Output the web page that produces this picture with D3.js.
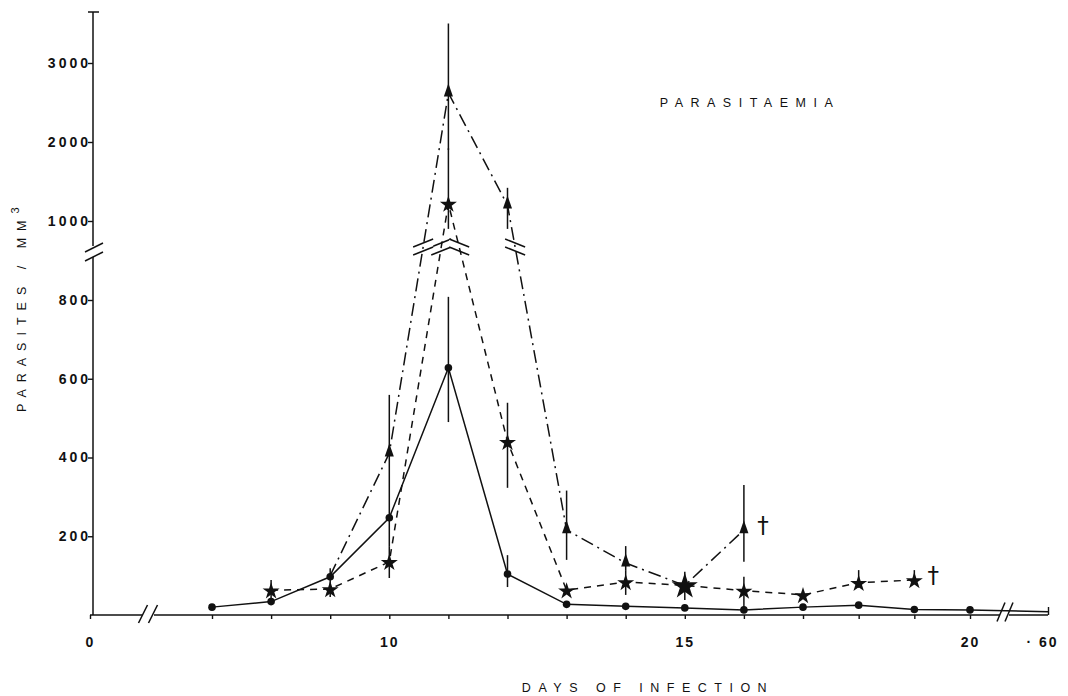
<!DOCTYPE html>
<html>
<head>
<meta charset="utf-8">
<script src="https://cdnjs.cloudflare.com/ajax/libs/d3/7.8.5/d3.min.js"></script>
<style>
  body { margin: 0; background: #fff; }
  svg { display: block; font-family: "Liberation Sans", Arial, sans-serif; }
</style>
</head>
<body>
<svg id="chart" width="1068" height="696"></svg>
<script>
// values (parasites / mm3)
var dotDays   = [7, 8, 9, 10, 11, 12, 13, 14, 15, 16, 17, 18, 19, 20, 60];
var dotValues = [20, 34, 97, 247, 628, 104, 27, 22, 18, 13, 20, 25, 14, 13, 8];
var dotErrors = [null, null, null, null, [490, 808], [71, 152], null, null, null, null, null, null, null, null, null];

var starDays   = [8, 9, 10, 11, 12, 13, 14, 15, 16, 17, 18, 19];
var starValues = [63, 66, 135, 1220, 440, 63, 84, 75, 62, 51, 82, 89];
var starErrors = [[40, 89], [46, 119], [94, 173], [900, 1920], [323, 539], null, [51, 114], [38, 110], [13, 97], null, [69, 114], [78, 114]];

var triDays   = [9, 10, 11, 12, 13, 14, 15, 16];
var triValues = [100, 411, 2620, 1200, 216, 132, 75, 216];
var triErrors = [null, [173, 559], [1900, 3500], [900, 1420], [140, 316], [114, 175], null, [135, 330]];

var yTicksLow  = [200, 400, 600, 800];
var yTicksHigh = [1000, 2000, 3000];
var xTicks     = [0, 7, 8, 9, 10, 11, 12, 13, 14, 15, 16, 17, 18, 19, 20, 60];
var xLabels    = [0, 10, 15, 20, 60];

var bigStarDay = 15;

var svg = d3.select("#chart");

// broken x axis: 0 .. // .. 7-20 .. // .. 60
var x = d3.scaleLinear().domain([0, 7, 17, 20, 60]).range([90, 212, 803, 970, 1048]);
// broken y axis: two linear pieces
var yLow  = d3.scaleLinear().domain([0, 800]).range([615, 300]);
var yHigh = d3.scaleLinear().domain([1000, 3000]).range([221, 63]);
var y = function(v) { return v >= 900 ? yHigh(v) : yLow(v); };

var axisX = 93, baseY = 615, gapY = 247;

function zip(days, vals, errs) {
  return days.map(function(d, i) { return {day: d, v: vals[i], err: errs[i]}; });
}
var dots  = zip(dotDays, dotValues, dotErrors);
var stars = zip(starDays, starValues, starErrors);
var tris  = zip(triDays, triValues, triErrors);

// ---- axes ----
var g = svg.append("g");

var yAxisLow = d3.axisLeft(yLow).tickValues(yTicksLow).tickSize(5).tickPadding(0).tickFormat(d3.format("d"));
var yAxisHigh = d3.axisLeft(yHigh).tickValues(yTicksHigh).tickSize(5).tickPadding(0).tickFormat(d3.format("d"));
[yAxisLow, yAxisHigh].forEach(function(ax) {
  var a = g.append("g").attr("transform", "translate(" + axisX + ",0)").call(ax);
  a.select(".domain").remove();
  a.selectAll("line").attr("stroke", "#111").attr("stroke-width", 1.4);
  a.selectAll("text").attr("x", -2).attr("fill", "#111")
    .style("font-size", "14px").style("font-weight", "bold").style("letter-spacing", "3px");
});

// y axis line in two parts + top cap
g.append("line").attr("x1", axisX).attr("x2", axisX).attr("y1", baseY).attr("y2", gapY + 10)
  .attr("stroke", "#111").attr("stroke-width", 1.5);
g.append("line").attr("x1", axisX).attr("x2", axisX).attr("y1", gapY - 1).attr("y2", 12)
  .attr("stroke", "#111").attr("stroke-width", 1.5);
g.append("line").attr("x1", axisX - 5).attr("x2", axisX + 6).attr("y1", 12).attr("y2", 12)
  .attr("stroke", "#111").attr("stroke-width", 1.5);

var xAxis = d3.axisBottom(x).tickValues(xTicks).tickSize(4).tickPadding(18)
  .tickFormat(function(d) { return xLabels.indexOf(d) < 0 ? "" : (d === 60 ? "\u00b7 60" : d); });
var xa = g.append("g").attr("transform", "translate(0," + baseY + ")").call(xAxis);
xa.select(".domain").remove();
xa.selectAll("line").attr("stroke", "#111").attr("stroke-width", 1.4);
xa.selectAll(".tick").filter(function(d) { return d === 60; }).select("line").attr("y2", -8);
xa.selectAll(".tick").filter(function(d) { return d === 60; }).select("text").attr("dx", -6);
xa.selectAll("text").attr("fill", "#111")
  .style("font-size", "14px").style("font-weight", "bold").style("letter-spacing", "2px");

// x axis line with two breaks
[[x(0), 143], [154, 1001], [1009, x(60)]].forEach(function(s) {
  g.append("line").attr("x1", s[0]).attr("x2", s[1]).attr("y1", baseY).attr("y2", baseY)
    .attr("stroke", "#111").attr("stroke-width", 1.5);
});

function breakMark(cx, cy, dxh, dyh, gap, vertical) {
  // white fill between two slanted strokes, then the strokes
  var b = g.append("g");
  var p1, p2;
  if (vertical) {
    p1 = [[cx - gap / 2 - dxh, cy + dyh], [cx - gap / 2 + dxh, cy - dyh]];
    p2 = [[cx + gap / 2 - dxh, cy + dyh], [cx + gap / 2 + dxh, cy - dyh]];
  } else {
    p1 = [[cx - dxh, cy - gap / 2 + dyh], [cx + dxh, cy - gap / 2 - dyh]];
    p2 = [[cx - dxh, cy + gap / 2 + dyh], [cx + dxh, cy + gap / 2 - dyh]];
  }
  b.append("path").attr("d", "M" + p1[0] + "L" + p1[1] + "L" + p2[1] + "L" + p2[0] + "Z")
    .attr("fill", "#fff").attr("stroke", "none");
  [p1, p2].forEach(function(p) {
    b.append("line").attr("x1", p[0][0]).attr("y1", p[0][1]).attr("x2", p[1][0]).attr("y2", p[1][1])
      .attr("stroke", "#111").attr("stroke-width", 1.5);
  });
}

// ---- series lines ----
var line = d3.line().x(function(d) { return x(d.day); }).y(function(d) { return y(d.v); });
var plot = svg.append("g");

plot.append("path").datum(dots).attr("d", line).attr("fill", "none")
  .attr("stroke", "#111").attr("stroke-width", 1.5);
plot.append("path").datum(stars).attr("d", line).attr("fill", "none")
  .attr("stroke", "#111").attr("stroke-width", 1.5).attr("stroke-dasharray", "7,6");
plot.append("path").datum(tris).attr("d", line).attr("fill", "none")
  .attr("stroke", "#111").attr("stroke-width", 1.5).attr("stroke-dasharray", "13,5,2,5");

// error bars
[dots, stars, tris].forEach(function(series) {
  plot.selectAll(null).data(series.filter(function(d) { return d.err; })).enter()
    .append("line")
    .attr("x1", function(d) { return x(d.day); }).attr("x2", function(d) { return x(d.day); })
    .attr("y1", function(d) { return y(d.err[0]); }).attr("y2", function(d) { return y(d.err[1]); })
    .attr("stroke", "#111").attr("stroke-width", 1.5);
});

// axis breaks
breakMark(axisX + 1, gapY + 5, 9, 4.5, 9, false);
breakMark(148, baseY - 1, 4.5, 9, 10, true);
breakMark(1005, baseY - 3, 4, 9.5, 8, true);

// breaks where a series line crosses from the lower to the upper scale
[stars, tris].forEach(function(series) {
  for (var i = 1; i < series.length; i++) {
    var a = series[i - 1], b = series[i];
    if ((a.v >= 900) === (b.v >= 900)) continue;
    var x0 = x(a.day), y0 = y(a.v), x1 = x(b.day), y1 = y(b.v);
    var t = (gapY - y0) / (y1 - y0);
    var cx = x0 + t * (x1 - x0);
    var rising = y1 < y0;
    breakMark(cx, gapY, 10, rising ? 4 : -4, 8, false);
  }
});

// ---- markers ----
var marks = svg.append("g").attr("fill", "#111");

marks.selectAll(".dot").data(dots.filter(function(d) { return d.day <= 20; })).enter()
  .append("circle").attr("class", "dot")
  .attr("cx", function(d) { return x(d.day); }).attr("cy", function(d) { return y(d.v); })
  .attr("r", 3.8);

marks.selectAll(".tri").data(tris.slice(1)).enter()
  .append("path").attr("class", "tri")
  .attr("d", d3.symbol().type(d3.symbolTriangle).size(44))
  .attr("transform", function(d) { return "translate(" + x(d.day) + "," + (y(d.v) - 1) + ") scale(0.9,1.5)"; });

marks.selectAll(".star").data(stars).enter()
  .append("path").attr("class", "star")
  .attr("d", function(d) { return d3.symbol().type(d3.symbolStar).size(d.day === bigStarDay ? 210 : 90)(); })
  .attr("transform", function(d) { return "translate(" + x(d.day) + "," + (y(d.v) + 1) + ")"; });

// daggers after the last point of the two series
[tris, stars].forEach(function(series) {
  var last = series[series.length - 1];
  svg.append("text").attr("x", x(last.day) + 19).attr("y", y(last.v) + 3)
    .attr("text-anchor", "middle").attr("fill", "#111")
    .style("font-family", "'DejaVu Sans', sans-serif").style("font-size", "23px")
    .text("\u2020");
});

// ---- titles ----
svg.append("text").attr("x", 750).attr("y", 107).attr("text-anchor", "middle").attr("fill", "#111")
  .style("font-size", "12.5px").style("letter-spacing", "7.5px").text("PARASITAEMIA");

svg.append("text").attr("x", 648).attr("y", 692).attr("text-anchor", "middle").attr("fill", "#111")
  .style("font-size", "12.5px").style("letter-spacing", "7.5px").text("DAYS  OF  INFECTION");

var yl = svg.append("text").attr("transform", "translate(26,412) rotate(-90)").attr("fill", "#111")
  .style("font-size", "12.5px").style("letter-spacing", "7px");
yl.append("tspan").text("PARASITES  /  MM");
yl.append("tspan").attr("dy", -7).style("font-size", "11px").text("3");
</script>
</body>
</html>
